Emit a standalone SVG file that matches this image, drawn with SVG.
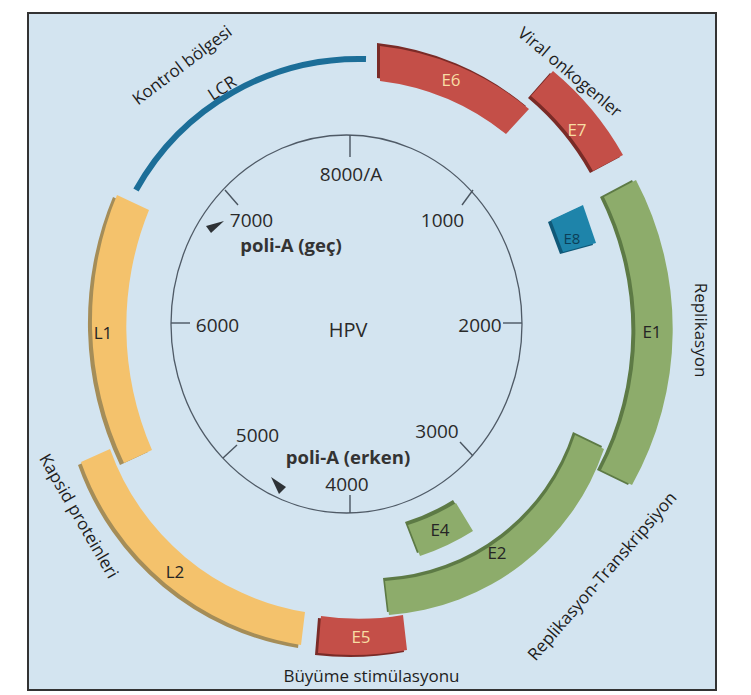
<svg xmlns="http://www.w3.org/2000/svg" width="751" height="695" viewBox="0 0 751 695">
<style>
text { font-family: "Open Sans", "Noto Sans", "DejaVu Sans", sans-serif; }
.lab { font-size: 17px; fill: #1e1e1e; text-anchor: middle; }
.num { font-size: 19px; fill: #2a2a2a; text-anchor: middle; }
.bold { font-size: 18.5px; font-weight: bold; fill: #333; text-anchor: middle; }
.gl { font-size: 17px; text-anchor: middle; }
.lt { fill: #f8dda4; }
.dk { fill: #252525; }
.e8t { fill: #0c3f58; }
.red-d { fill: #7a2b27; } .red { fill: #c44f48; }
.grn-d { fill: #5d7a45; } .grn { fill: #8dac6b; }
.yel-d { fill: #a58d58; } .yel { fill: #f4c26c; }
.blu-d { fill: #0f5878; } .blu { fill: #1e84aa; }
.tick { stroke: #4a5560; stroke-width: 1.4; fill: none; }
.arrow { fill: #2e3236; }
</style>
<defs>
<path id="p-e6" d="M377,43 A280,280 0 0 1 526,106 L503,131 A250,250 0 0 0 377,78 Z"/>
<path id="p-e7" d="M550,73 A300,300 0 0 1 620,157 L590,173 A270,270 0 0 0 528,98 Z"/>
<path id="p-e8" d="M548,222 L580,207 L593,245 L560,254 Z"/>
<path id="p-e1" d="M632,180 A320,320 0 0 1 628,485 L597,470 A300,300 0 0 0 600,197 Z"/>
<path id="p-e2" d="M602,446 A245,245 0 0 1 387,612 L383,578 A212,212 0 0 0 573,432 Z"/>
<path id="p-e4" d="M453,500 L470,528 A240,240 0 0 1 417,553 L405,522 A210,210 0 0 0 453,500 Z"/>
<path id="p-e5" d="M404,652 A290,290 0 0 1 315,655 L318,618 A255,255 0 0 0 400,617 Z"/>
<path id="p-l2" d="M298,648 A280,280 0 0 1 78,465 L107,452 A250,250 0 0 0 302,615 Z"/>
<path id="p-l1" d="M120,465 A330,330 0 0 1 113,197 L145,212 A310,310 0 0 0 148,452 Z"/>
</defs>
<rect x="0" y="0" width="751" height="695" fill="#ffffff"/>
<rect x="28" y="13" width="688" height="677" fill="#d3e4f0" stroke="#333" stroke-width="2"/>

<g id="hpv-map">
<ellipse cx="346.5" cy="324" rx="175.5" ry="189" fill="none" stroke="#4f5a66" stroke-width="1.3"/>
<g id="ticks">
<line class="tick" x1="350" y1="135" x2="350" y2="157"/>
<line class="tick" x1="350" y1="495" x2="350" y2="513"/>
<line class="tick" x1="171" y1="323" x2="190" y2="323"/>
<line class="tick" x1="503" y1="323" x2="522" y2="323"/>
<line class="tick" x1="225" y1="190" x2="238" y2="205"/>
<line class="tick" x1="473" y1="190" x2="462" y2="205"/>
<line class="tick" x1="223" y1="458" x2="237" y2="445"/>
<line class="tick" x1="473" y1="456" x2="460" y2="442"/>
</g>
<text class="num" x="351" y="181">8000/A</text>
<text class="num" x="251.5" y="227">7000</text>
<text class="num" x="442.5" y="227">1000</text>
<text class="num" x="217.5" y="332">6000</text>
<text class="num" x="480" y="332">2000</text>
<text class="num" x="257.5" y="442">5000</text>
<text class="num" x="437" y="438">3000</text>
<text class="num" x="347" y="491">4000</text>
<text class="num" x="348" y="337" style="font-size:20px">HPV</text>
<text class="bold" x="291" y="252">poli-A (geç)</text>
<text class="bold" x="348" y="464">poli-A (erken)</text>
</g>

<g id="connectors">
<polygon id="polyA-late" class="arrow" points="224,221 206,226 211,233"/>
<polygon id="polyA-early" class="arrow" points="271,477 286,487 279,494"/>
</g>

<g id="LCR">
<path d="M136,190 A255,255 0 0 1 366,59" fill="none" stroke="#1c6e98" stroke-width="6"/>
<text class="lab" transform="translate(222 88) rotate(-33)" y="6">LCR</text>
</g>
<g id="E6">
<use href="#p-e6" class="red-d"/>
<use href="#p-e6" class="red" transform="translate(3 3)"/>
<text class="gl lt" x="451" y="86">E6</text>
</g>
<g id="E7">
<use href="#p-e7" class="red-d"/>
<use href="#p-e7" class="red" transform="translate(3 -2)"/>
<text class="gl lt" x="577" y="136">E7</text>
</g>
<g id="E8">
<use href="#p-e8" class="blu-d"/>
<use href="#p-e8" class="blu" transform="translate(3 -2)"/>
<text class="gl e8t" x="572" y="244" style="font-size:15px">E8</text>
</g>
<g id="E1">
<use href="#p-e1" class="grn-d"/>
<use href="#p-e1" class="grn" transform="translate(4 0)"/>
<text class="gl dk" x="652" y="338">E1</text>
</g>
<g id="E2">
<use href="#p-e2" class="grn-d"/>
<use href="#p-e2" class="grn" transform="translate(2 3)"/>
<text class="gl dk" x="497" y="559">E2</text>
</g>
<g id="E4">
<use href="#p-e4" class="grn-d"/>
<use href="#p-e4" class="grn" transform="translate(3 3)"/>
<text class="gl dk" x="440" y="536">E4</text>
</g>
<g id="E5">
<use href="#p-e5" class="red-d"/>
<use href="#p-e5" class="red" transform="translate(3 -2)"/>
<text class="gl lt" x="361" y="643">E5</text>
</g>
<g id="L2">
<use href="#p-l2" class="yel-d"/>
<use href="#p-l2" class="yel" transform="translate(3 -3)"/>
<text class="gl dk" x="175" y="578">L2</text>
</g>
<g id="L1">
<use href="#p-l1" class="yel-d"/>
<use href="#p-l1" class="yel" transform="translate(4 -2)"/>
<text class="gl dk" x="103" y="339">L1</text>
</g>

<g id="labels">
<text class="lab" transform="translate(182 65) rotate(-37)" y="6">Kontrol bölgesi</text>
<text class="lab" transform="translate(570 72) rotate(40)" y="6">Viral onkogenler</text>
<text class="lab" transform="translate(701 330) rotate(90)" y="6">Replikasyon</text>
<text class="lab" transform="translate(602 576) rotate(-49)" y="6">Replikasyon-Transkripsiyon</text>
<text class="lab" x="371.5" y="682">Büyüme stimülasyonu</text>
<text class="lab" transform="translate(79 516) rotate(60)" y="6">Kapsid proteinleri</text>
</g>
</svg>
